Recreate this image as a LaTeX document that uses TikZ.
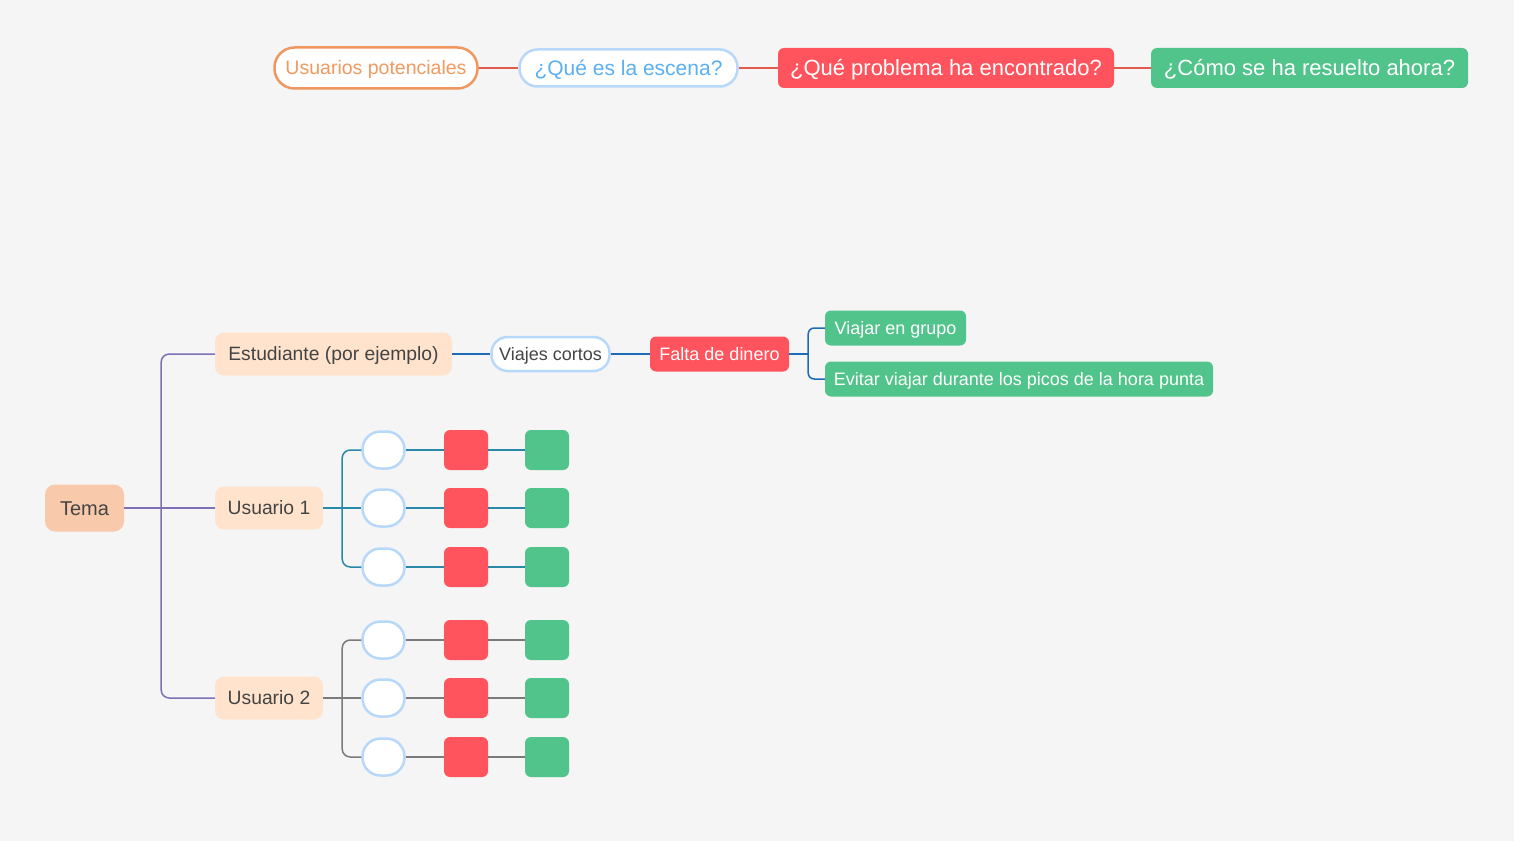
\documentclass[tikz,border=0pt]{standalone}
\usepackage{fontspec}
\setmainfont{Liberation Sans}
\definecolor{bg}{HTML}{F5F5F5}
\definecolor{orB}{HTML}{F0965F}
\definecolor{orT}{HTML}{F2995F}
\definecolor{blB}{HTML}{B8D8FA}
\definecolor{blT}{HTML}{5BB0F2}
\definecolor{rdF}{HTML}{FF535D}
\definecolor{grF}{HTML}{51C48B}
\definecolor{peach}{HTML}{F8CAAB}
\definecolor{peachL}{HTML}{FFE3CC}
\definecolor{txD}{HTML}{444444}
\definecolor{lnR}{HTML}{E05A4F}
\definecolor{lnP}{HTML}{7F70B5}
\definecolor{lnB}{HTML}{1E6BB8}
\definecolor{lnT}{HTML}{2A88A8}
\definecolor{lnG}{HTML}{7A7A7A}
\begin{document}
\begin{tikzpicture}[x=1pt,y=-1pt,
  box/.style={inner sep=0pt, align=center, anchor=center, text depth=0pt},
  pillbox/.style={box, draw, line width=2.5pt, fill=white},
  redbox/.style={box, fill=rdF, text=white, rounded corners=6pt},
  greenbox/.style={box, fill=grF, text=white, rounded corners=6pt},
  peachbox/.style={box, fill=peachL, text=txD, rounded corners=9pt},
  circbox/.style={box, draw=blB, line width=2.5pt, fill=white, minimum width=42pt, minimum height=37pt, rounded corners=18pt},
  sqred/.style={box, fill=rdF, minimum width=44pt, minimum height=40pt, rounded corners=6pt},
  sqgreen/.style={box, fill=grF, minimum width=44pt, minimum height=40pt, rounded corners=6pt},
  lnk/.style={line width=1.5pt},
  conn/.style={line width=1.5pt, rounded corners=8pt},
  fTop/.style={font=\fontsize{22}{26}\selectfont, text height=15.8pt},
  fMid/.style={font=\fontsize{18}{22}\selectfont, text height=12.9pt},
  fPeach/.style={font=\fontsize{19.3}{23}\selectfont, text height=13.8pt},
]
\useasboundingbox (0,0) rectangle (1514,840);
\fill[bg] (-5,-5) rectangle (1520,846);

% top row
\node[pillbox, draw=orB, text=orT, minimum width=203pt, minimum height=41pt, rounded corners=20pt, font=\fontsize{19.5}{24}\selectfont, text height=14pt] (up) at (376,68) {Usuarios potenciales};
\node[pillbox, draw=blB, text=blT, minimum width=218pt, minimum height=37pt, rounded corners=18pt, font=\fontsize{21}{25}\selectfont, text height=15pt] (qe) at (628.5,68) {¿Qué es la escena?};
\node[redbox, minimum width=336pt, minimum height=40pt, fTop] (qp) at (946,68) {¿Qué problema ha encontrado?};
\node[greenbox, minimum width=317pt, minimum height=40pt, fTop] (cs) at (1309.5,68) {¿Cómo se ha resuelto ahora?};
\draw[lnR, lnk] (up.east) -- (qe.west);
\draw[lnR, lnk] (qe.east) -- (qp.west);
\draw[lnR, lnk] (qp.east) -- (cs.west);

% tree
\node[box, fill=peach, text=txD, rounded corners=10pt, minimum width=79pt, minimum height=47pt, font=\fontsize{20}{24}\selectfont, text height=14.3pt] (tema) at (84.5,508) {Tema};
\node[peachbox, minimum width=237pt, minimum height=43pt, fPeach] (est) at (333.5,354) {Estudiante (por ejemplo)};
\node[peachbox, minimum width=108pt, minimum height=43pt, fPeach] (u1) at (269,508) {Usuario 1};
\node[peachbox, minimum width=108pt, minimum height=43pt, fPeach] (u2) at (269,698) {Usuario 2};

\coordinate (tf) at ([xshift=37pt]tema.east);
\draw[lnP, lnk] (tema.east) -- (u1.west);
\draw[lnP, conn] (tf) |- (est.west);
\draw[lnP, conn] (tf) |- (u2.west);

% Estudiante branch
\node[pillbox, draw=blB, text=txD, minimum width=118pt, minimum height=34pt, rounded corners=16pt, fMid] (vc) at (550.5,354) {Viajes cortos};
\node[redbox, minimum width=139pt, minimum height=35pt, fMid] (fd) at (719.5,354) {Falta de dinero};
\node[greenbox, minimum width=141pt, minimum height=35pt, fMid] (vg) at (895.5,328) {Viajar en grupo};
\node[greenbox, minimum width=388pt, minimum height=35pt, fMid] (ev) at (1019,379) {Evitar viajar durante los picos de la hora punta};
\draw[lnB, lnk] (est.east) -- (vc.west);
\draw[lnB, lnk] (vc.east) -- (fd.west);
\coordinate (ff) at ([xshift=19pt]fd.east);
\draw[lnB, lnk] (fd.east) -- (ff);
\draw[lnB, conn, rounded corners=6pt] (ff) |- (vg.west);
\draw[lnB, conn, rounded corners=6pt] (ff) |- (ev.west);

% Usuario 1 rows
\foreach \i/\y in {1/450, 2/508, 3/567} {
  \node[circbox] (ac\i) at (383.5,\y) {};
  \node[sqred] (ar\i) at (466,\y) {};
  \node[sqgreen] (ag\i) at (547,\y) {};
  \draw[lnT, lnk] (ac\i.east) -- (ar\i.west);
  \draw[lnT, lnk] (ar\i.east) -- (ag\i.west);
}
\coordinate (f1) at ([xshift=19pt]u1.east);
\draw[lnT, lnk] (u1.east) -- (ac2.west);
\draw[lnT, conn] (f1) |- (ac1.west);
\draw[lnT, conn] (f1) |- (ac3.west);

% Usuario 2 rows
\foreach \i/\y in {1/640, 2/698, 3/757} {
  \node[circbox] (bc\i) at (383.5,\y) {};
  \node[sqred] (br\i) at (466,\y) {};
  \node[sqgreen] (bg\i) at (547,\y) {};
  \draw[lnG, lnk] (bc\i.east) -- (br\i.west);
  \draw[lnG, lnk] (br\i.east) -- (bg\i.west);
}
\coordinate (f2) at ([xshift=19pt]u2.east);
\draw[lnG, lnk] (u2.east) -- (bc2.west);
\draw[lnG, conn] (f2) |- (bc1.west);
\draw[lnG, conn] (f2) |- (bc3.west);
\end{tikzpicture}
\end{document}
